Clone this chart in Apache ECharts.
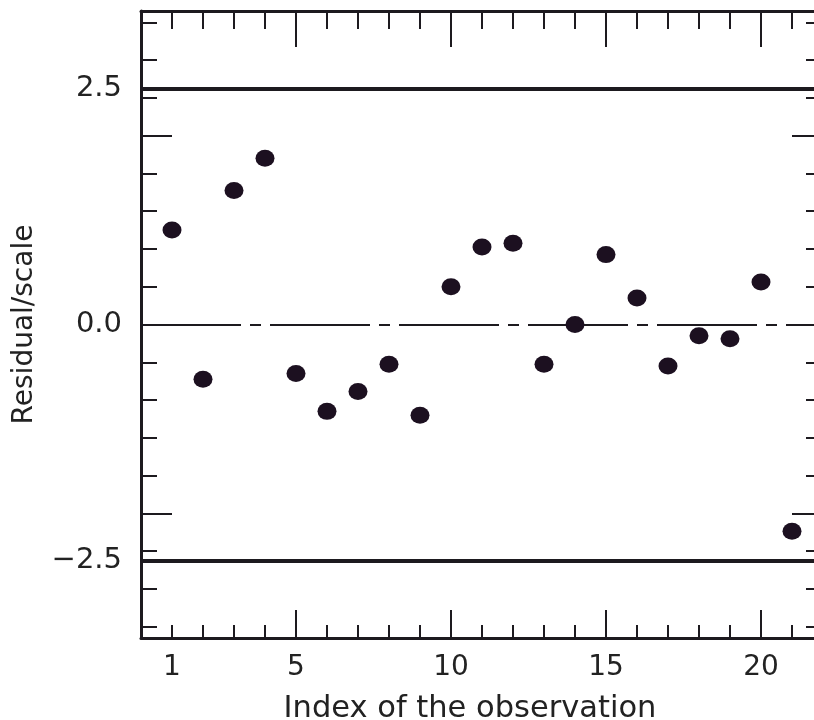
<!DOCTYPE html>
<html>
<head>
<meta charset="utf-8">
<script src="https://cdn.jsdelivr.net/npm/echarts@6/dist/echarts.min.js"></script>
<style>
  html, body { margin: 0; padding: 0; background: #ffffff; }
  #chart { width: 814px; height: 720px; }
</style>
</head>
<body>
<div id="chart"></div>
<script>
// Observation index and scaled residual for each observation
const obsIndex = [1, 2, 3, 4, 5, 6, 7, 8, 9, 10, 11, 12, 13, 14, 15, 16, 17, 18, 19, 20, 21];
const residuals = [1.00, -0.58, 1.42, 1.76, -0.52, -0.92, -0.71, -0.42, -0.96, 0.40,
                   0.82, 0.86, -0.42, 0.00, 0.74, 0.28, -0.44, -0.12, -0.15, 0.45, -2.19];

// Reference levels: cut-offs and the zero line
const cutoffs = [2.5, -2.5];
const centreLine = [0];

// Tick marks and labels
const xLabelValues = [1, 5, 10, 15, 20];
const xMinorTicks = [1, 2, 3, 4, 6, 7, 8, 9, 11, 12, 13, 14, 16, 17, 18, 19, 21];
const xMajorTicks = [5, 10, 15, 20];
const yLabelValues = [-2.5, 0, 2.5];
const yLabelTexts = ['\u22122.5', '0.0', '2.5'];
const yMinorTicks = [-3.2, -2.8, -2.4, -1.6, -1.2, -0.8, -0.4, 0.4, 0.8, 1.2, 1.6, 2.4, 2.8, 3.2];
const yMajorTicks = [-2.0, 2.0];

const ink = '#1d1a1f';
const dotInk = '#1c1020';
const textInk = '#222222';
const font = '"DejaVu Sans", "Liberation Sans", Arial, sans-serif';

const X_MIN = 0, X_MAX = 22, Y_MIN = -3.32, Y_MAX = 3.32;

function frameLine(show) {
  return { show: show, onZero: false, lineStyle: { color: ink, width: 3 } };
}
function xAx(position, ticks, len, extra) {
  return Object.assign({
    type: 'value', min: X_MIN, max: X_MAX, position: position,
    axisLine: frameLine(false),
    axisTick: { show: true, inside: true, length: len, customValues: ticks,
                lineStyle: { color: ink, width: 2 } },
    axisLabel: { show: false },
    splitLine: { show: false }
  }, extra || {});
}
function yAx(position, ticks, len, extra) {
  return Object.assign({
    type: 'value', min: Y_MIN, max: Y_MAX, position: position,
    axisLine: frameLine(false),
    axisTick: { show: true, inside: true, length: len, customValues: ticks,
                lineStyle: { color: ink, width: 2 } },
    axisLabel: { show: false },
    splitLine: { show: false }
  }, extra || {});
}

const chart = echarts.init(document.getElementById('chart'), null, { renderer: 'canvas' });

chart.setOption({
  backgroundColor: '#ffffff',
  animation: false,
  grid: { left: 141, top: 11, width: 682, height: 627, containLabel: false, outerBoundsMode: 'none' },
  xAxis: [
    xAx('bottom', xMinorTicks, 13, {
      axisLine: frameLine(true),
      axisLabel: { show: true, customValues: xLabelValues, margin: 16,
                   fontSize: 28, fontFamily: font, color: textInk },
      name: 'Index of the observation', nameLocation: 'middle', nameGap: 56,
      nameTextStyle: { fontSize: 30.5, fontFamily: font, color: textInk, padding: [0, 24, 0, 0] }
    }),
    xAx('bottom', xMajorTicks, 28),
    xAx('top', xMinorTicks, 18, { axisLine: frameLine(true) }),
    xAx('top', xMajorTicks, 36)
  ],
  yAxis: [
    yAx('left', yMinorTicks, 16, {
      axisLine: frameLine(true),
      axisLabel: { show: true, customValues: yLabelValues, margin: 19,
                   fontSize: 29, fontFamily: font, color: textInk,
                   formatter: function (v) {
                     const i = yLabelValues.findIndex(function (t) { return Math.abs(t - v) < 1e-9; });
                     return i >= 0 ? yLabelTexts[i] : '';
                   } },
      name: 'Residual/scale', nameLocation: 'middle', nameGap: 102,
      nameTextStyle: { fontSize: 28, fontFamily: font, color: textInk }
    }),
    yAx('left', yMajorTicks, 31),
    yAx('right', yMinorTicks, 17),
    yAx('right', yMajorTicks, 31)
  ],
  series: [
    {
      type: 'scatter',
      xAxisIndex: 0, yAxisIndex: 0,
      data: obsIndex.map(function (x, i) { return [x, residuals[i]]; }),
      symbol: 'circle',
      symbolSize: [19, 17],
      itemStyle: { color: dotInk, opacity: 1 },
      z: 5,
      markLine: {
        silent: true, symbol: 'none', label: { show: false },
        lineStyle: { color: ink, width: 4, type: 'solid', opacity: 1 },
        data: cutoffs.map(function (v) { return { yAxis: v }; })
      }
    },
    {
      type: 'scatter',
      xAxisIndex: 0, yAxisIndex: 0,
      data: [],
      markLine: {
        silent: true, symbol: 'none', label: { show: false },
        lineStyle: { color: ink, width: 2, type: [100, 9, 11, 9], opacity: 1 },
        data: centreLine.map(function (v) { return { yAxis: v }; })
      }
    }
  ]
});
</script>
</body>
</html>
